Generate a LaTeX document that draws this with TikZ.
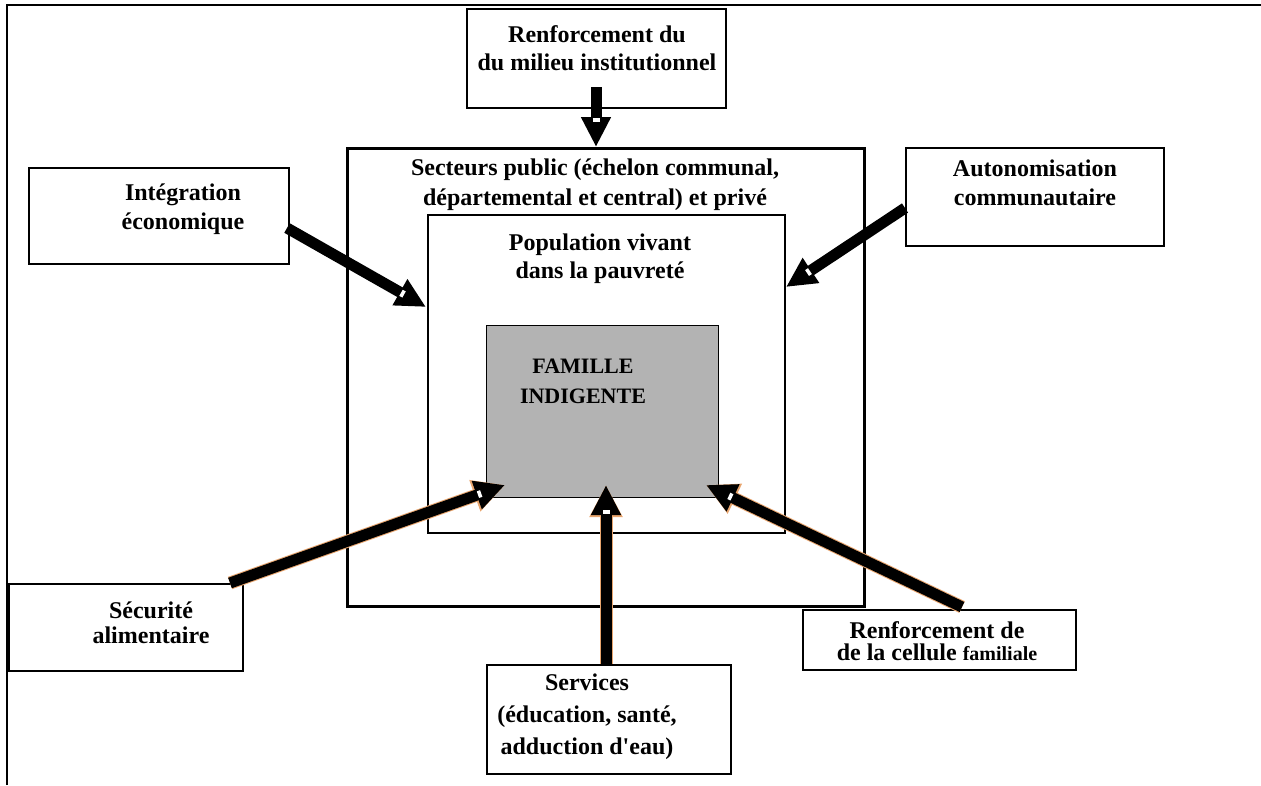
\documentclass[tikz,border=0pt]{standalone}
\usepackage{fontspec}
\setmainfont{Liberation Serif}
\usetikzlibrary{arrows.meta,calc}
\definecolor{famgray}{RGB}{179,179,179}
\definecolor{edgeorange}{RGB}{232,165,110}
\newcommand\arrowdash[2]{%
  \coordinate (dashpt) at ($(#2)!27pt!(#1)$);
  \draw[white,line width=3.5pt] ($(dashpt)!3.5pt!90:(#1)$) -- ($(dashpt)!3.5pt!-90:(#1)$);}
\tikzset{
  box/.style={draw, line width=1.5pt, inner sep=0pt, anchor=north west},
  lbl/.style={font=\bfseries\fontsize{24}{#1}\selectfont, align=center, inner sep=0pt, anchor=north},
  lbl/.default=30,
  bigarrow/.style={line width=11pt, -{Triangle[width=28pt,length=30pt]}},
  outlinearrow/.style={edgeorange, line width=13pt, -{Triangle[width=31pt,length=32pt]}},
}
\begin{document}
\begin{tikzpicture}[x=1pt,y=-1pt]
\useasboundingbox (0,0) rectangle (1261,785);
% outer frame (top and left only)
\draw[line width=2.5pt] (7,785) -- (7,5) -- (1261,5);

% boxes
\node[box, line width=3pt, minimum width=517pt, minimum height=458pt] (secteurs) at (346,147) {};
\node[box, minimum width=357pt, minimum height=318pt] (population) at (427,214) {};
\node[box, line width=1pt, fill=famgray, minimum width=232pt, minimum height=172pt] (famille) at (486,325) {};
\node[box, line width=2pt, minimum width=259pt, minimum height=99pt] (institution) at (466,8) {};
\node[box, minimum width=260pt, minimum height=96pt] (integration) at (28,167) {};
\node[box, minimum width=258pt, minimum height=98pt] (autonomie) at (905,147) {};
\node[box, line width=1.8pt, minimum width=234pt, minimum height=87pt] (securite) at (8,583) {};
\node[box, minimum width=244pt, minimum height=109pt] (services) at (486,664) {};
\node[box, line width=1.8pt, minimum width=273pt, minimum height=60pt] (cellule) at (802,609) {};

% texts
\node[lbl=28] (tinst) at (597,25.5) {Renforcement du\\du milieu institutionnel};
\node[lbl=30] (tsect) at (595,158.5) {Secteurs public (échelon communal,\\départemental et central) et privé};
\node[lbl=28] (tpop) at (600,233.5) {Population vivant\\dans la pauvreté};
\node[lbl=30, font=\bfseries\fontsize{22}{30}\selectfont] (tfam) at (583,359) {FAMILLE\\INDIGENTE};
\node[lbl=29] (tint) at (183,183.5) {Intégration\\économique};
\node[lbl=29] (taut) at (1035,159.5) {Autonomisation\\communautaire};
\node[lbl=25] (tsec) at (151,601.5) {Sécurité\\alimentaire};
\node[lbl=32] (tserv) at (587,673.5) {Services\\(éducation, santé,\\adduction d\textquotesingle eau)};
\node[lbl=22] (tcel) at (937,621.5) {Renforcement de\\de la cellule {\fontsize{20}{22}\selectfont familiale}};

% arrow end points
\coordinate (a1s) at (596,87);  \coordinate (a1e) at (596,147);
\coordinate (a2s) at (287,228); \coordinate (a2e) at (426,307);
\coordinate (a3s) at (905,208); \coordinate (a3e) at (786,287);
\coordinate (a4s) at (230,583); \coordinate (a4e) at (505,485);
\coordinate (a5s) at (606,664); \coordinate (a5e) at (606,485);
\coordinate (a6s) at (962,607); \coordinate (a6e) at (706,485);

% arrows
\draw[bigarrow] (a1s) -- (a1e); \arrowdash{a1s}{a1e}
\draw[bigarrow] (a2s) -- (a2e); \arrowdash{a2s}{a2e}
\draw[bigarrow] (a3s) -- (a3e); \arrowdash{a3s}{a3e}
\draw[outlinearrow] (a4s) -- (a4e); \draw[bigarrow] (a4s) -- (a4e); \arrowdash{a4s}{a4e}
\draw[outlinearrow] (a5s) -- (a5e); \draw[bigarrow] (a5s) -- (a5e); \arrowdash{a5s}{a5e}
\draw[outlinearrow] (a6s) -- (a6e); \draw[bigarrow] (a6s) -- (a6e); \arrowdash{a6s}{a6e}
\end{tikzpicture}
\end{document}
